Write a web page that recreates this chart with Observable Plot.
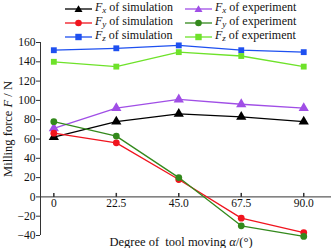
<!DOCTYPE html>
<html>
<head>
<meta charset="utf-8">
<script src="https://cdn.jsdelivr.net/npm/d3@7"></script>
<script src="https://cdn.jsdelivr.net/npm/@observablehq/plot@0.6"></script>
<style>
  body { margin: 0; background: #fff; }
  #wrap { position: relative; width: 332px; height: 248px; font-family: "Liberation Serif", "Times New Roman", serif; color: #111; }
  #wrap svg.plot { position: absolute; left: 0; top: 0; }
  .leg { position: absolute; font-size: 12px; line-height: 14px; white-space: nowrap; display: flex; align-items: center; }
  .leg svg { margin-right: 3px; }
  .ylab { position: absolute; left: 8px; top: 129px; transform: translate(-50%, -50%) rotate(-90deg); font-size: 12.5px; white-space: nowrap; }
  .xlab { position: absolute; left: 181px; top: 242px; transform: translate(-50%, -50%); font-size: 12.5px; white-space: nowrap; }
</style>
</head>
<body>
<div id="wrap"></div>
<script>
const angles = [0, 22.5, 45, 67.5, 90];
const fxSim = [62, 78, 86, 83, 78];
const fxExp = [71, 92, 101, 96, 92];
const fySim = [66, 56, 18, -22, -37];
const fyExp = [78, 63, 20, -30, -41];
const fzSim = [152, 154, 157, 152, 150];
const fzExp = [140, 135, 150, 146, 135];

const xTickLabels = ["0", "22.5", "45.0", "67.5", "90.0"];
const yTicks = [-40, -20, 0, 20, 40, 60, 80, 100, 120, 140, 160];
const xDomain = [-4.8, 100];
const yDomain = [-40, 160];

const seriesNames = ["Fx sim", "Fx exp", "Fy sim", "Fy exp", "Fz sim", "Fz exp"];
const seriesValues = [fxSim, fxExp, fySim, fyExp, fzSim, fzExp];
const seriesColors = ["#000000", "#a04ee6", "#f0141e", "#33891c", "#1e50f0", "#6ee22a"];
const seriesSymbols = ["triangle", "triangle", "circle", "circle", "square", "square"];
const legendSub = ["x", "x", "y", "y", "z", "z"];
const legendText = ["of simulation", "of experiment", "of simulation", "of experiment", "of simulation", "of experiment"];

const rows = [];
seriesNames.forEach((s, i) => angles.forEach((a, j) => rows.push({series: s, angle: a, value: seriesValues[i][j]})));

const tickUp = { draw(ctx) { ctx.moveTo(0, 0); ctx.lineTo(0, -4); } };

const marks = [
  Plot.ruleX([xDomain[0]], {y1: yDomain[0], y2: yDomain[1], stroke: "#333", strokeWidth: 1}),
  Plot.ruleY([0], {stroke: "#333", strokeWidth: 1}),
  Plot.dot(angles, {x: d => d, y: 0, symbol: tickUp, stroke: "#333", fill: "none", r: 3}),
  Plot.text(angles, {x: d => d, y: 0, text: (d, i) => xTickLabels[i], dy: 6, lineAnchor: "middle", fontSize: 11.5, fill: "#111"}),
  Plot.axisY(yTicks, {tickSize: 4, tickPadding: 1, label: null, fontSize: 11.5, stroke: "#333"}),
];
seriesNames.forEach((s, i) => {
  const d = rows.filter(r => r.series === s);
  marks.push(Plot.line(d, {x: "angle", y: "value", stroke: seriesColors[i], strokeWidth: 1.3}));
  const sym = seriesSymbols[i];
  marks.push(Plot.dot(d, {x: "angle", y: "value", fill: seriesColors[i], symbol: sym, r: sym === "circle" ? 3.4 : sym === "square" ? 3.3 : 3.8, stroke: "none"}));
});

const chart = Plot.plot({
  width: 332,
  height: 248,
  marginLeft: 40,
  marginRight: 1,
  marginTop: 42,
  marginBottom: 13,
  x: {domain: xDomain, axis: null},
  y: {domain: yDomain, axis: null},
  style: {fontFamily: "Liberation Serif, Times New Roman, serif", fontSize: "11.5px", color: "#111", background: "transparent"},
  marks
});
chart.classList.add("plot");
const wrap = document.getElementById("wrap");
wrap.appendChild(chart);

// legend
const colX = [65, 185];
const rowY = [7, 21, 35];
seriesNames.forEach((s, i) => {
  const col = i % 2, row = Math.floor(i / 2);
  const div = document.createElement("div");
  div.className = "leg";
  div.style.left = colX[col] + "px";
  div.style.top = (rowY[row] - 7) + "px";
  const color = seriesColors[i];
  let marker;
  if (seriesSymbols[i] === "triangle") marker = `<path d="M13.5,1.2 L17.5,8 L9.5,8 Z" fill="${color}"/>`;
  else if (seriesSymbols[i] === "circle") marker = `<circle cx="13.5" cy="5" r="3.3" fill="${color}"/>`;
  else marker = `<rect x="10.3" y="1.8" width="6.4" height="6.4" fill="${color}"/>`;
  div.innerHTML = `<svg width="27" height="10"><line x1="0" y1="5" x2="27" y2="5" stroke="${color}" stroke-width="1.3"/>${marker}</svg>` +
    `<span><i>F</i><sub style="font-size:9px;vertical-align:-2px"><i>${legendSub[i]}</i></sub> ${legendText[i]}</span>`;
  wrap.appendChild(div);
});

const yl = document.createElement("div");
yl.className = "ylab";
yl.innerHTML = "Milling force <i>F</i> / N";
wrap.appendChild(yl);

const xl = document.createElement("div");
xl.className = "xlab";
xl.innerHTML = "Degree of&nbsp; tool moving <i>α</i>/(°)";
wrap.appendChild(xl);
</script>
</body>
</html>
